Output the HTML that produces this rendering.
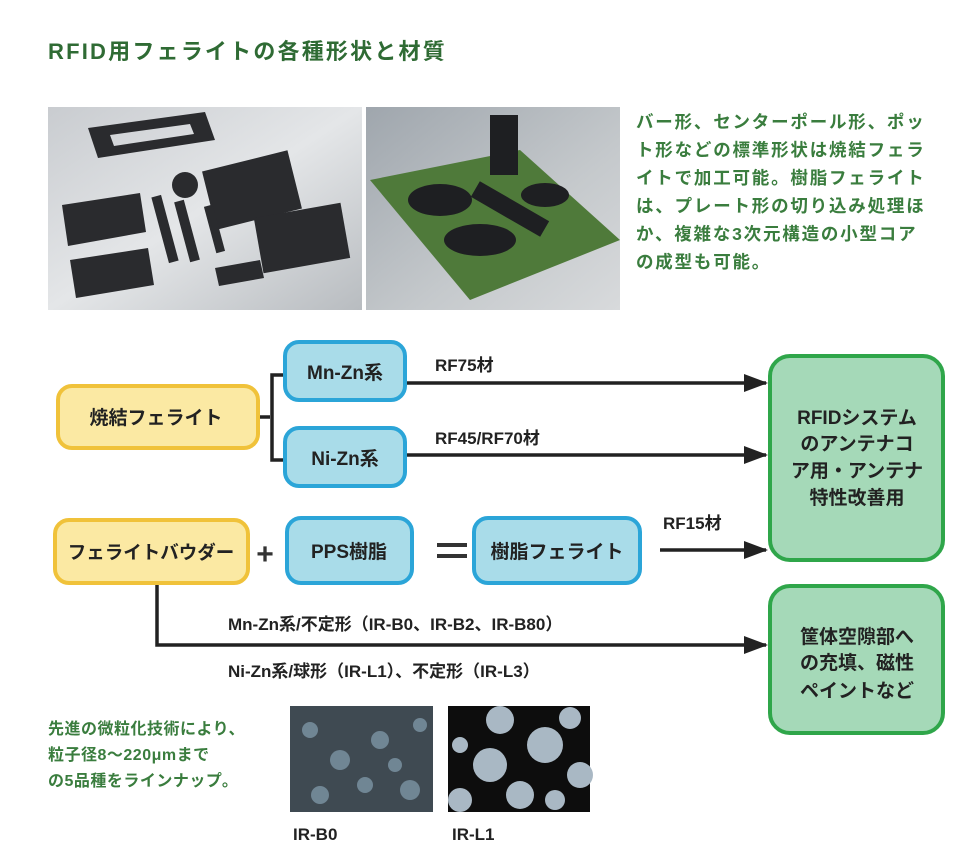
<!DOCTYPE html>
<html><head><meta charset="utf-8"><style>
html,body{margin:0;padding:0;background:#fff}
svg{display:block}
text{font-family:"Liberation Sans","Noto Sans CJK JP",sans-serif;font-weight:bold}
</style></head><body>
<svg width="968" height="862" viewBox="0 0 968 862" xmlns="http://www.w3.org/2000/svg">
<defs>
<linearGradient id="g1" x1="0" y1="0" x2="1" y2="1"><stop offset="0" stop-color="#c9ccd0"/><stop offset="0.5" stop-color="#e4e6e8"/><stop offset="1" stop-color="#b8bcc0"/></linearGradient>
<linearGradient id="g2" x1="0" y1="0" x2="1" y2="1"><stop offset="0" stop-color="#9fa6ad"/><stop offset="0.6" stop-color="#c5c9cc"/><stop offset="1" stop-color="#d8dadc"/></linearGradient>
<marker id="ar" markerWidth="24" markerHeight="18" refX="22" refY="9" orient="auto" markerUnits="userSpaceOnUse"><path d="M0,0 L24,9 L0,18 z" fill="#222"/></marker>
</defs>
<text x="48" y="59" font-size="22" letter-spacing="2.2" fill="#2f6b34">RFID用フェライトの各種形状と材質</text>
<rect x="48" y="107" width="314" height="203" fill="url(#g1)"/>
<g fill="#2a2b2e">
<path d="M88,128 L205,112 L215,140 L98,158 z M110,135 L190,124 L194,134 L114,146 z" fill-rule="evenodd"/>
<path d="M62,205 L140,193 L146,232 L68,246 z"/>
<path d="M70,260 L148,248 L154,285 L76,298 z"/>
<rect x="208" y="160" width="88" height="60" transform="rotate(-14 252 190)"/>
<rect x="258" y="210" width="88" height="56" transform="rotate(-10 302 238)"/>
<circle cx="185" cy="185" r="13"/>
<rect x="160" y="195" width="10" height="68" transform="rotate(-15 165 229)"/>
<rect x="182" y="200" width="10" height="62" transform="rotate(-15 187 231)"/>
<rect x="210" y="205" width="9" height="48" transform="rotate(-15 214 229)"/>
<path d="M215,268 L260,260 L264,278 L219,286 z"/>
</g>
<rect x="366" y="107" width="254" height="203" fill="url(#g2)"/>
<path d="M370,180 L520,150 L620,240 L470,300 z" fill="#4f7a3a"/>
<g fill="#1e1f22">
<rect x="490" y="115" width="28" height="60"/>
<ellipse cx="440" cy="200" rx="32" ry="16"/>
<rect x="470" y="200" width="80" height="18" transform="rotate(30 510 209)"/>
<ellipse cx="480" cy="240" rx="36" ry="16"/>
<ellipse cx="545" cy="195" rx="24" ry="12"/>
</g>
<g font-size="17.5" fill="#3a7d3e" letter-spacing="1.8">
<text x="636" y="128">バー形、センターポール形、ポッ</text>
<text x="636" y="156">ト形などの標準形状は焼結フェラ</text>
<text x="636" y="184">イトで加工可能。樹脂フェライト</text>
<text x="636" y="212">は、プレート形の切り込み処理ほ</text>
<text x="636" y="240">か、複雑な3次元構造の小型コア</text>
<text x="636" y="268">の成型も可能。</text>
</g>
<g stroke="#222" stroke-width="3.5" fill="none">
<path d="M258,417 L270,417 M285,375 L272,375 L272,460 L285,460"/>
<path d="M405,383 L766,383" marker-end="url(#ar)"/>
<path d="M405,455 L766,455" marker-end="url(#ar)"/>
<path d="M660,550 L766,550" marker-end="url(#ar)"/>
<path d="M157,583 L157,645 L766,645" marker-end="url(#ar)"/>
</g>
<g stroke-width="4">
<rect x="58" y="386" width="200" height="62" rx="14" fill="#fbe9a3" stroke="#f0c23a"/>
<rect x="55" y="520" width="193" height="63" rx="14" fill="#fbe9a3" stroke="#f0c23a"/>
<rect x="285" y="342" width="120" height="58" rx="14" fill="#a9dce9" stroke="#2ba5d8"/>
<rect x="285" y="428" width="120" height="58" rx="14" fill="#a9dce9" stroke="#2ba5d8"/>
<rect x="287" y="518" width="125" height="65" rx="14" fill="#a9dce9" stroke="#2ba5d8"/>
<rect x="474" y="518" width="166" height="65" rx="14" fill="#a9dce9" stroke="#2ba5d8"/>
<rect x="770" y="356" width="173" height="204" rx="20" fill="#a5d9b8" stroke="#2fa64a"/>
<rect x="770" y="586" width="173" height="147" rx="20" fill="#a5d9b8" stroke="#2fa64a"/>
</g>
<g font-size="19" fill="#222" text-anchor="middle">
<text x="156" y="424">焼結フェライト</text>
<text x="151" y="559" font-size="18.5">フェライトバウダー</text>
<text x="345" y="379">Mn-Zn系</text>
<text x="345" y="465">Ni-Zn系</text>
<text x="349" y="558">PPS樹脂</text>
<text x="557" y="558">樹脂フェライト</text>
<text x="857" y="424">RFIDシステム</text>
<text x="857" y="450">のアンテナコ</text>
<text x="857" y="477">ア用・アンテナ</text>
<text x="857" y="504">特性改善用</text>
<text x="857" y="643">筐体空隙部へ</text>
<text x="857" y="669">の充填、磁性</text>
<text x="857" y="697">ペイントなど</text>
</g>
<text x="265" y="564" font-size="30" fill="#333" text-anchor="middle">+</text>
<g fill="#333"><rect x="437" y="543" width="30" height="4"/><rect x="437" y="554" width="30" height="4"/></g>
<g font-size="17" fill="#222">
<text x="435" y="371">RF75材</text>
<text x="435" y="444">RF45/RF70材</text>
<text x="663" y="529">RF15材</text>
<text x="228" y="630">Mn-Zn系/不定形（IR-B0、IR-B2、IR-B80）</text>
<text x="228" y="677">Ni-Zn系/球形（IR-L1）、不定形（IR-L3）</text>
<text x="293" y="840">IR-B0</text>
<text x="452" y="840">IR-L1</text>
</g>
<g font-size="16" fill="#3a7d3e" letter-spacing="0.5">
<text x="48" y="734">先進の微粒化技術により、</text>
<text x="48" y="760">粒子径8～220μmまで</text>
<text x="48" y="786">の5品種をラインナップ。</text>
</g>
<rect x="290" y="706" width="143" height="106" fill="#3f4a52"/>
<g fill="#7d95a5" opacity="0.8">
<circle cx="310" cy="730" r="8"/><circle cx="340" cy="760" r="10"/><circle cx="380" cy="740" r="9"/><circle cx="410" cy="790" r="10"/><circle cx="320" cy="795" r="9"/><circle cx="365" cy="785" r="8"/><circle cx="420" cy="725" r="7"/><circle cx="395" cy="765" r="7"/>
</g>
<rect x="448" y="706" width="142" height="106" fill="#0d0d0d"/>
<g fill="#a9b8c4">
<circle cx="500" cy="720" r="14"/><circle cx="545" cy="745" r="18"/><circle cx="490" cy="765" r="17"/><circle cx="580" cy="775" r="13"/><circle cx="520" cy="795" r="14"/><circle cx="570" cy="718" r="11"/><circle cx="460" cy="800" r="12"/><circle cx="555" cy="800" r="10"/><circle cx="460" cy="745" r="8"/>
</g>
</svg>
</body></html>
